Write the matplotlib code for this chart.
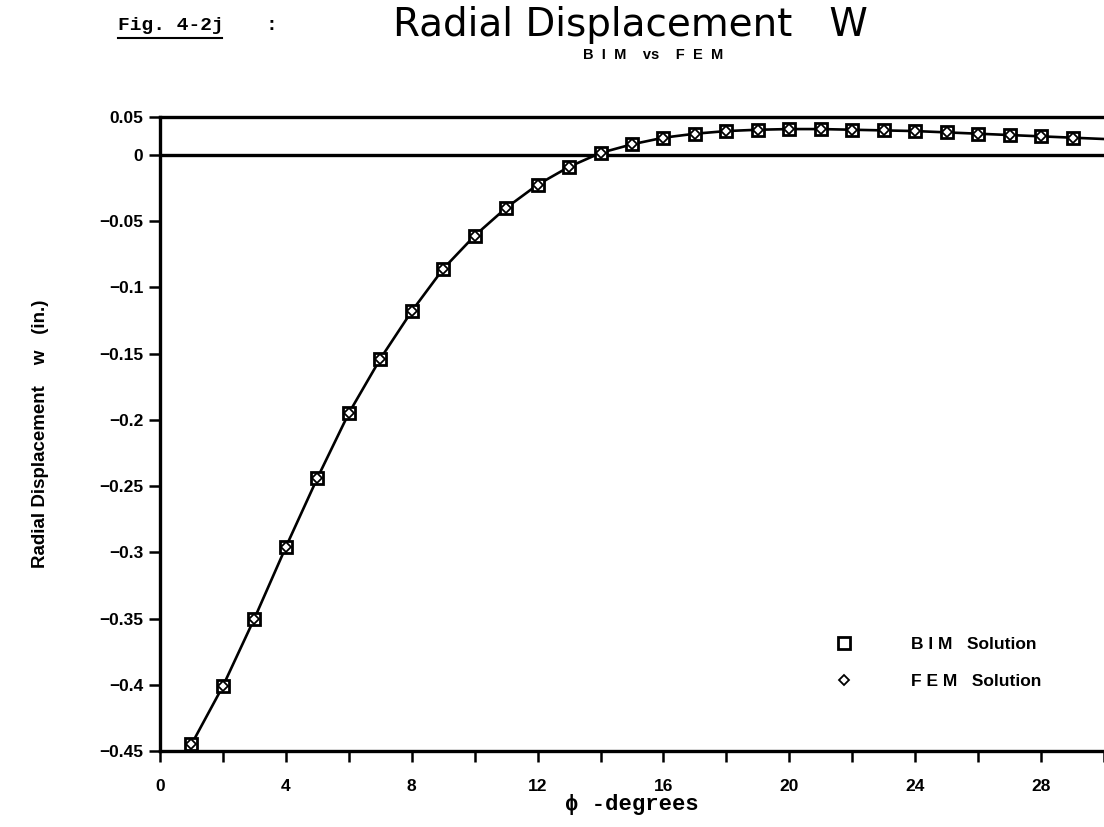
#Radial displacement W, BIM vs FEM (Fig. 4-2j)
import matplotlib
matplotlib.use('Agg')
import matplotlib.pyplot as plt
from matplotlib.lines import Line2D

# angle phi in degrees
phi = [1, 2, 3, 4, 5, 6, 7, 8, 9, 10, 11, 12, 13, 14, 15,
       16, 17, 18, 19, 20, 21, 22, 23, 24, 25, 26, 27, 28, 29, 30]
# FEM solution (in.)
w_fem = [-0.445, -0.401, -0.350, -0.296, -0.244, -0.195, -0.154, -0.118,
         -0.086, -0.061, -0.040, -0.0225, -0.009, 0.0015, 0.008, 0.013,
         0.016, 0.018, 0.019, 0.0195, 0.0195, 0.019, 0.0185, 0.018,
         0.017, 0.016, 0.015, 0.014, 0.013, 0.012]
# BIM solution (in.), computed at phi = 1..29
phi_bim = phi[:29]
w_bim = w_fem[:29]

yticks = [-0.45, -0.4, -0.35, -0.3, -0.25, -0.2, -0.15, -0.1, -0.05, 0]
ytick_labels = ['\u22120.45', '\u22120.4', '\u22120.35', '\u22120.3', '\u22120.25',
                '\u22120.2', '\u22120.15', '\u22120.1', '\u22120.05', '0']
xticks_major = [0, 4, 8, 12, 16, 20, 24, 28]

sans = ['Liberation Sans', 'DejaVu Sans']
mono = ['Liberation Mono', 'DejaVu Sans Mono']
fig = plt.figure(figsize=(11.04, 8.27), dpi=100)
ax = fig.add_axes([160/1104, 1 - 751/827, 944/1104, 634/827])

ymax = 38/66.4*0.05  # top frame sits above the zero line
ax.set_xlim(0, 30)
ax.set_ylim(-0.45, ymax)

ax.axhline(0, color='k', lw=2.4)
ax.plot(phi, w_fem, color='k', lw=1.9, zorder=3)
ax.plot(phi_bim, w_bim, ls='none', marker='s', ms=9, mfc='white', mec='k',
        mew=2, zorder=4, label='B I M   Solution')
ax.plot(phi_bim, w_fem[:29], ls='none', marker='D', ms=5.5, mfc='none',
        mec='k', mew=1.3, zorder=5, label='F E M   Solution')

for s in ['left', 'top', 'bottom']:
    ax.spines[s].set_linewidth(2.4)
ax.spines['right'].set_visible(False)

ax.set_yticks(yticks + [ymax])
ax.set_yticklabels(ytick_labels + ['0.05'], fontsize=12.5, fontweight='bold',
                   family=sans)
ax.set_xticks(xticks_major)
ax.set_xticklabels([str(t) for t in xticks_major], fontsize=12.5,
                   fontweight='bold', family=sans)
ax.set_xticks(range(0, 31, 2), minor=True)
ax.tick_params(axis='both', which='both', direction='out', length=8,
               width=1.8, pad=4)
ax.tick_params(axis='x', which='both', pad=12)

ax.set_xlabel('\u03d5\u2009-degrees', fontsize=16, fontweight='bold',
              family=mono, labelpad=0)
ax.set_ylabel('Radial Displacement    w   (in.)', fontsize=13.5,
              fontweight='bold', family=sans, labelpad=36)

ax.legend(loc='center left', bbox_to_anchor=(0.715, 0.139),
          frameon=False, handlelength=1, handletextpad=3.4,
          labelspacing=1.3, borderpad=0, borderaxespad=0,
          prop={'family': sans, 'weight': 'bold', 'size': 12.5})

fig.text(630/1104, 1 - 25/827, 'Radial Displacement   W', ha='center',
         va='center', fontsize=28, family=['DejaVu Sans'])
fig.text(653/1104, 1 - 55/827, 'B  I  M    vs    F  E  M', ha='center',
         va='center', fontsize=10.5, fontweight='bold', family=sans)
fig.text(118/1104, 1 - 25/827, 'Fig. 4-2j', ha='left', va='center',
         fontsize=14, fontweight='bold', family=mono)
fig.text(265/1104, 1 - 25/827, ':', ha='left', va='center',
         fontsize=14, fontweight='bold', family=mono)
fig.add_artist(Line2D([118/1104, 222/1104], [1 - 38/827, 1 - 38/827],
                      color='k', lw=1.5, transform=fig.transFigure))

fig.savefig('out.png', dpi=100)
plt.close()
